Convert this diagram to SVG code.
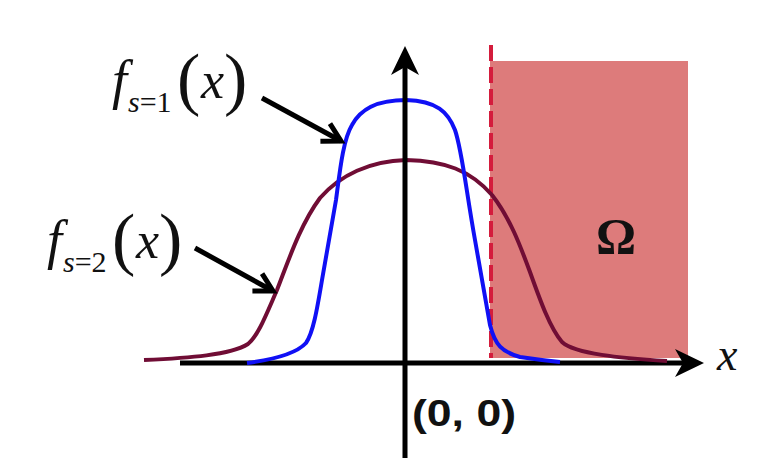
<svg xmlns="http://www.w3.org/2000/svg" width="760" height="471" viewBox="0 0 760 471">
<style>
.axis{stroke:#000;stroke-width:5;fill:none}
.ptr{stroke:#000;stroke-width:5;fill:none;stroke-linecap:butt}
.mth{font-family:"Liberation Serif","Times New Roman",serif;fill:#111}
.it{font-style:italic}
.curve{fill:none;stroke-width:4;stroke-linejoin:round;stroke-linecap:butt}
</style>
<defs>
<marker id="axhead" markerUnits="userSpaceOnUse" viewBox="-12 -15 31 30" markerWidth="31" markerHeight="30" refX="0" refY="0" orient="auto" overflow="visible">
<path d="M18,0 L-11,-14 L-3,0 L-11,14 Z" fill="#000"/>
</marker>
<marker id="vhead" markerUnits="userSpaceOnUse" viewBox="-20 -12 22 24" markerWidth="22" markerHeight="24" refX="0" refY="0" orient="auto" overflow="visible">
<path d="M-18,-10 L0,0 L-18,10" fill="none" stroke="#000" stroke-width="5"/>
</marker>
</defs>
<rect width="760" height="471" fill="#fff"/>
<g id="omega-region">
<rect x="490" y="61" width="198" height="297" fill="#dd7b7b"/>
<line x1="491" y1="45" x2="491" y2="358" stroke="#d41c3c" stroke-width="4" stroke-dasharray="16 6"/>
<text x="616" y="253" text-anchor="middle" class="mth" font-weight="bold" font-size="50">Ω</text>
</g>
<g id="x-axis">
<line class="axis" x1="180" y1="363" x2="686" y2="363" marker-end="url(#axhead)"/>
<text x="717" y="370" class="mth it" font-size="46">x</text>
</g>
<g id="curve-s2">
<path class="curve" stroke="#700d35" d="M144,360 C190,358 230,355 248,344 C258,336 266,315 277,290 C288,262 300,225 320,198 C340,175 370,161 406,160 C445,161 470,170 492,195 C510,218 520,245 530,272 C540,300 550,328 562,342 C575,354 620,358 667,361"/>
</g>
<g id="curve-s1">
<path class="curve" stroke="#1010f5" d="M247,363 C270,360 295,355 306,343 C313,333 317,310 322,280 L336,200 C340,170 343,140 352,125 C360,110 375,100 406,100 C437,101 448,112 455,130 C462,150 466,190 475,240 L490,325 C495,345 502,352 520,357 C540,360 550,361 560,362"/>
</g>
<g id="y-axis">
<line class="axis" x1="405" y1="458" x2="405" y2="64" marker-end="url(#axhead)"/>
</g>
<g id="origin-label">
<text x="412" y="426" font-family="Liberation Sans, Arial, sans-serif" font-weight="bold" font-size="37" textLength="104" lengthAdjust="spacingAndGlyphs" fill="#111">(0, 0)</text>
</g>
<g id="label-s1">
<text class="mth" font-size="54"><tspan class="it" x="112" y="98">f</tspan><tspan class="it" x="128" y="112" font-size="30">s</tspan><tspan font-size="30">=1</tspan><tspan x="177" y="102" font-size="70">(</tspan><tspan class="it" x="201" y="98" font-size="52">x</tspan><tspan x="224" y="102" font-size="70">)</tspan></text>
</g>
<g id="label-s2" transform="translate(-65,160)">
<text class="mth" font-size="54"><tspan class="it" x="112" y="98">f</tspan><tspan class="it" x="128" y="112" font-size="30">s</tspan><tspan font-size="30">=2</tspan><tspan x="177" y="102" font-size="70">(</tspan><tspan class="it" x="201" y="98" font-size="52">x</tspan><tspan x="224" y="102" font-size="70">)</tspan></text>
</g>
<g id="connectors">
<line class="ptr" x1="262" y1="98" x2="341" y2="141" marker-end="url(#vhead)"/>
<line class="ptr" x1="195" y1="248" x2="273" y2="291" marker-end="url(#vhead)"/>
</g>
</svg>
